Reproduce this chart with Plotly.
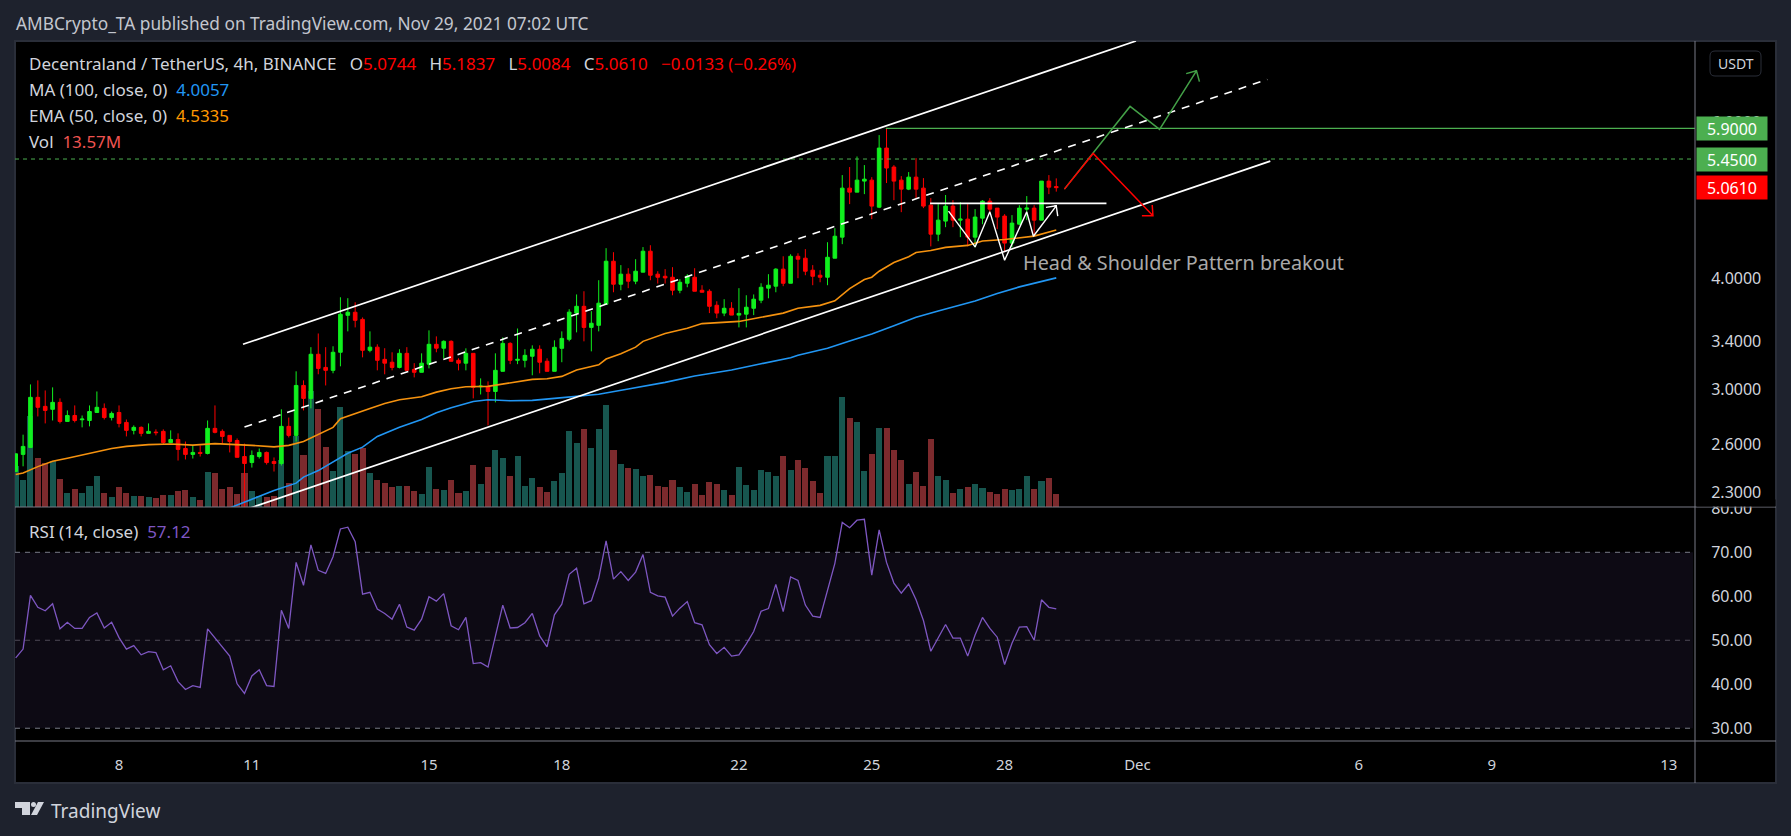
import numpy as np
import pandas as pd
import plotly.graph_objects as go

# 4h MANA/USDT candles
opens = [2.425,2.535,2.581,2.939,2.871,2.849,2.901,2.761,2.804,2.773,
         2.768,2.826,2.856,2.789,2.826,2.754,2.698,2.719,2.677,2.686,
         2.691,2.614,2.635,2.574,2.535,2.548,2.541,2.712,2.691,2.663,
         2.628,2.521,2.482,2.521,2.548,2.489,2.476,2.726,2.663,3.031,
         2.931,3.286,3.176,3.152,3.303,3.635,3.664,3.597,3.320,3.347,
         3.243,3.219,3.176,3.294,3.160,3.136,3.203,3.372,3.338,3.398,
         3.235,3.211,3.294,3.021,3.024,2.984,3.144,3.380,3.235,3.235,
         3.269,3.329,3.227,3.144,3.337,3.416,3.656,3.721,3.523,3.542,
         3.741,4.182,3.940,4.044,3.971,4.065,4.292,4.044,4.022,4.012,
         3.879,3.950,4.012,3.879,3.869,3.731,3.656,3.702,3.637,3.646,
         3.702,3.780,3.900,3.920,4.097,3.950,4.236,4.215,4.086,4.033,
         4.012,4.215,4.451,5.054,5.002,5.147,5.160,4.811,5.607,5.338,
         5.160,5.041,5.200,5.054,4.836,4.486,4.640,4.824,4.652,4.664,
         4.451,4.676,4.886,4.799,4.701,4.383,4.604,4.786,4.799,4.652,
         5.147,5.0744]
highs = [2.539,2.668,3.039,3.071,2.992,3.016,2.931,2.841,2.878,2.804,
         2.878,2.984,2.893,2.833,2.878,2.775,2.733,2.726,2.747,2.705,
         2.705,2.698,2.677,2.621,2.594,2.594,2.768,2.878,2.705,2.663,
         2.642,2.607,2.561,2.574,2.554,2.515,2.849,2.789,3.144,3.071,
         3.347,3.468,3.347,3.355,3.809,3.800,3.760,3.615,3.487,3.372,
         3.338,3.303,3.329,3.347,3.211,3.294,3.496,3.442,3.407,3.407,
         3.252,3.337,3.294,3.087,3.063,3.294,3.433,3.390,3.513,3.329,
         3.363,3.363,3.252,3.407,3.487,3.693,3.837,3.869,3.674,3.981,
         4.326,4.281,4.140,4.107,4.204,4.338,4.359,4.075,4.097,4.118,
         3.992,4.044,4.107,3.930,3.889,3.770,3.790,3.761,3.900,3.829,
         3.837,3.950,4.044,4.107,4.236,4.258,4.269,4.315,4.140,4.086,
         4.393,4.556,5.228,5.338,5.486,5.365,5.200,5.799,5.904,5.365,
         5.214,5.269,5.463,5.187,4.925,4.849,4.965,4.899,4.874,4.849,
         4.786,4.899,4.925,4.799,4.725,4.713,4.836,4.951,4.836,5.147,
         5.228,5.1837]
lows = [2.425,2.458,2.581,2.797,2.747,2.768,2.747,2.761,2.754,2.719,
        2.726,2.826,2.775,2.768,2.719,2.656,2.670,2.656,2.677,2.663,
        2.600,2.614,2.495,2.502,2.508,2.521,2.535,2.677,2.607,2.548,
        2.516,2.200,2.450,2.508,2.469,2.425,2.463,2.649,2.621,2.841,
        2.856,3.120,3.031,3.128,3.185,3.487,3.523,3.260,3.303,3.152,
        3.120,3.152,3.168,3.152,3.095,3.136,3.168,3.303,3.252,3.224,
        3.152,3.152,2.931,2.961,2.733,2.901,3.144,3.203,3.203,3.176,
        3.112,3.128,3.144,3.144,3.219,3.398,3.478,3.398,3.311,3.487,
        3.741,3.859,3.879,3.900,3.940,4.065,3.981,3.947,3.947,3.829,
        3.849,3.909,3.869,3.859,3.656,3.608,3.627,3.637,3.523,3.523,
        3.637,3.751,3.799,3.859,3.920,3.950,4.002,4.033,3.930,3.960,
        3.930,4.215,4.371,4.849,5.002,4.976,4.664,4.799,5.121,4.899,
        4.749,5.028,4.925,4.799,4.346,4.405,4.568,4.568,4.451,4.346,
        4.335,4.603,4.749,4.544,4.281,4.335,4.592,4.652,4.463,4.652,
        4.976,5.0084]
closes = [2.539,2.588,2.939,2.864,2.841,2.901,2.761,2.804,2.768,2.778,
          2.833,2.864,2.789,2.819,2.747,2.698,2.719,2.677,2.691,2.682,
          2.614,2.635,2.568,2.535,2.548,2.541,2.712,2.684,2.656,2.621,
          2.516,2.476,2.528,2.548,2.482,2.476,2.726,2.663,3.031,2.931,
          3.286,3.168,3.152,3.303,3.645,3.664,3.588,3.320,3.347,3.235,
          3.211,3.176,3.294,3.152,3.136,3.211,3.372,3.338,3.398,3.227,
          3.211,3.294,3.016,3.026,2.984,3.152,3.380,3.235,3.243,3.277,
          3.329,3.219,3.144,3.346,3.424,3.665,3.721,3.523,3.561,3.751,
          4.182,3.940,4.044,3.971,4.075,4.292,4.033,4.012,4.005,3.879,
          3.960,4.022,3.869,3.859,3.721,3.656,3.702,3.637,3.653,3.712,
          3.790,3.909,3.930,4.097,3.950,4.236,4.204,4.075,4.022,4.012,
          4.225,4.462,5.054,5.002,5.160,5.173,4.824,5.607,5.324,5.147,
          5.041,5.200,5.041,4.824,4.486,4.652,4.824,4.652,4.664,4.451,
          4.689,4.886,4.786,4.689,4.383,4.616,4.799,4.799,4.652,5.147,
          5.067,5.0610]
volumes = [42.5,28.5,94.7,51.5,45.9,48.3,29.5,14.9,19.1,14.9,
           22.2,32.7,14.9,10.8,21.2,14.9,11.8,11.8,10.8,9.7,
           12.8,12.8,17.0,18.1,10.8,7.6,36.9,35.8,19.1,21.2,
           13.9,35.8,17.0,11.8,10.8,11.8,49.4,25.4,74.4,54.6,
           121.4,102.6,63.0,37.9,104.7,58.8,55.6,61.9,35.8,28.5,
           25.4,21.2,22.2,22.2,17.0,13.9,42.1,18.8,17.7,28.2,
           14.6,16.7,43.8,24.0,41.8,59.5,51.2,32.4,53.2,21.9,
           30.3,20.9,15.7,27.1,35.5,79.3,66.8,81.4,61.6,81.4,
           106.5,59.5,44.9,40.7,39.7,32.4,33.4,21.9,20.9,28.2,
           20.9,15.7,24.0,12.5,26.1,24.0,17.7,12.5,41.8,23.0,
           17.7,38.6,36.5,32.4,53.2,38.6,49.1,40.7,27.1,14.6,
           53.2,53.2,114.8,92.9,88.7,37.6,55.3,82.5,82.5,59.5,
           49.1,24.0,36.5,21.9,71.0,32.4,28.2,14.6,18.8,20.9,
           24.0,19.8,15.7,13.6,18.8,17.7,18.8,32.4,18.8,27.1,
           30.3,13.57]
rsi_values = [46.0,48.0,60.2,57.5,56.7,58.3,52.6,54.1,52.7,52.7,
              55.2,56.2,52.8,54.1,50.6,48.0,48.8,46.7,47.4,47.2,
              43.3,44.2,40.6,38.8,39.7,39.3,52.6,50.6,48.6,46.4,
              40.1,37.9,41.9,43.3,39.7,39.5,56.8,52.7,67.7,62.5,
              71.7,65.9,65.2,69.0,75.3,75.7,72.4,60.5,60.9,57.1,
              56.1,54.8,58.2,53.0,52.3,54.8,59.9,58.9,60.6,53.3,
              52.4,55.2,44.7,44.9,43.9,51.2,58.0,52.8,52.9,54.0,
              56.1,51.0,48.5,55.8,58.2,65.0,66.4,58.3,59.0,64.1,
              72.6,63.9,65.6,63.6,65.5,69.5,60.9,60.1,59.8,55.5,
              57.3,58.8,54.0,53.5,49.0,47.0,48.4,46.4,46.7,49.2,
              52.0,56.6,57.2,62.7,56.5,64.4,63.6,58.0,55.5,55.2,
              61.4,67.5,76.8,75.6,77.3,77.5,64.8,75.1,67.7,63.0,
              60.7,62.8,59.2,54.5,47.5,50.7,53.6,50.5,50.5,46.4,
              51.2,55.2,52.7,50.7,44.5,49.3,53.0,53.1,50.0,59.2,
              57.5,57.12]

ema_bars = [0,1,3,5,7,9,11,13,15,18,21,24,27,29,32,35,37,39,41,43,44,46,48,50,52,55,57,59,
            61,64,66,68,70,72,74,76,79,80,82,84,85,88,91,93,96,98,101,104,106,109,111,113,
            115,116,117,119,121,122,124,126,129,131,134,138,141]
ema_values = [2.406,2.416,2.456,2.491,2.510,2.530,2.554,2.574,2.588,2.600,2.604,2.597,2.607,2.604,
              2.595,2.585,2.595,2.621,2.670,2.719,2.780,2.820,2.856,2.893,2.921,2.944,2.979,3.005,
              3.021,3.024,3.042,3.055,3.079,3.084,3.103,3.155,3.197,3.246,3.291,3.347,3.398,3.468,
              3.515,3.558,3.571,3.578,3.617,3.656,3.702,3.730,3.774,3.896,3.988,4.012,4.075,4.168,
              4.231,4.278,4.299,4.335,4.357,4.408,4.424,4.463,4.5335]
ma_bars = [28,32,35,38,39,41,43,45,47,49,52,55,57,59,62,64,67,70,73,76,79,83,88,92,97,101,105,
           106,110,113,116,119,122,125,127,130,133,136,141]
ma_values = [2.19,2.255,2.308,2.353,2.390,2.431,2.488,2.543,2.583,2.656,2.719,2.775,2.824,2.860,
             2.908,2.921,2.913,2.916,2.931,2.946,2.963,3.003,3.055,3.106,3.155,3.206,3.257,
             3.277,3.337,3.400,3.464,3.538,3.616,3.676,3.715,3.773,3.846,3.913,4.0057]

# drawing tools on the chart, as bar position and price
channel_top_bars, channel_top_prices = [30.8, 151.8], [3.372, 7.40]
channel_mid_bars, channel_mid_prices = [31.0, 169.6], [2.721, 6.699]
channel_low_bars, channel_low_prices = [31.0, 170.0], [2.195, 5.421]
neck_bars, neck_prices = [123.9, 147.8], [4.858, 4.858]
hs_bars = [126.4, 130, 132, 134, 137, 137.9, 141, 139.6, 141, 141.2]
hs_prices = [4.762, 4.340, 4.753, 4.193, 4.753, 4.462, 4.828, 4.808, 4.828, 4.701]
up_bars = [142.1, 151, 155, 160, 158.6, 160, 160.4]
up_prices = [5.041, 6.246, 5.885, 6.85, 6.80, 6.85, 6.66]
down_bars = [142.1, 146, 154.1, 152.6, 154.1, 154]
down_prices = [5.041, 5.530, 4.705, 4.705, 4.705, 4.838]

price_ticks = [2.3, 2.6, 3.0, 3.4, 4.0, 6.0]
rsi_ticks = [30, 40, 50, 60, 70, 80]
date_ticks = ["2021-11-08", "2021-11-11", "2021-11-15", "2021-11-18", "2021-11-22", "2021-11-25",
              "2021-11-28", "2021-12-01", "2021-12-06", "2021-12-09", "2021-12-13"]
date_labels = ["8", "11", "15", "18", "22", "25", "28", "Dec", "6", "9", "13"]

W, H = 1791, 836
BG = "#1e222d"
BORDER = "#2a2e39"
DIVIDER = "#787b86"
TEXT = "#d1d4dc"
UP = "#10f01e"
DOWN = "#ff0000"
GREEN_LINE = "#4caf50"
FONT = "Noto Sans"


def px(x):
    return x / W


def py(y):
    return 1 - y / H


start = pd.Timestamp("2021-11-05 16:00")


def bar_time(b):
    return start + pd.to_timedelta(np.asarray(b, dtype=float) * 4, unit="h")


times = bar_time(np.arange(len(closes)))
x_range = [bar_time(-0.095), bar_time(227.55)]
vol_colors = ["#17564f" if c >= o else "#7c2a2d" for o, c in zip(opens, closes)]

fig = go.Figure()

fig.add_trace(go.Bar(x=times, y=volumes, marker=dict(color=vol_colors, line_width=0),
                     width=4 * 3600 * 1000 * 0.82, xaxis="x", yaxis="y"))
fig.add_trace(go.Scatter(x=bar_time([117.9, 227.55]), y=[5.9, 5.9], mode="lines",
                         line=dict(color=GREEN_LINE, width=1.3), xaxis="x", yaxis="y2"))
fig.add_trace(go.Scatter(x=x_range, y=[5.45, 5.45], mode="lines",
                         line=dict(color=GREEN_LINE, width=1, dash="4px,4px"), xaxis="x", yaxis="y2"))
fig.add_trace(go.Candlestick(x=times, open=opens, high=highs, low=lows, close=closes,
                             increasing=dict(line=dict(color=UP, width=1), fillcolor=UP),
                             decreasing=dict(line=dict(color=DOWN, width=1), fillcolor=DOWN),
                             xaxis="x", yaxis="y2"))
fig.add_trace(go.Scatter(x=bar_time(ma_bars), y=ma_values, mode="lines",
                         line=dict(color="#2196f3", width=1.6), xaxis="x", yaxis="y2"))
fig.add_trace(go.Scatter(x=bar_time(ema_bars), y=ema_values, mode="lines",
                         line=dict(color="#f5920f", width=1.6), xaxis="x", yaxis="y2"))

for bars, prices, dash, width in [
    (channel_top_bars, channel_top_prices, None, 1.7),
    (channel_mid_bars, channel_mid_prices, "8px,7px", 1.6),
    (channel_low_bars, channel_low_prices, None, 1.7),
    (neck_bars, neck_prices, None, 1.7),
    (hs_bars, hs_prices, None, 1.4),
]:
    fig.add_trace(go.Scatter(x=bar_time(bars), y=prices, mode="lines",
                             line=dict(color="#ffffff", width=width, dash=dash), xaxis="x", yaxis="y2"))
fig.add_trace(go.Scatter(x=bar_time(up_bars), y=up_prices, mode="lines",
                         line=dict(color="#43a047", width=1.5), xaxis="x", yaxis="y2"))
fig.add_trace(go.Scatter(x=bar_time(down_bars), y=down_prices, mode="lines",
                         line=dict(color=DOWN, width=1.5), xaxis="x", yaxis="y2"))

fig.add_trace(go.Scatter(x=times, y=rsi_values, mode="lines",
                         line=dict(color="#7e57c2", width=1.3), xaxis="x2", yaxis="y3"))

shapes = [
    # chart frame
    dict(type="rect", xref="paper", yref="paper", x0=px(15), x1=px(1776), y0=py(783), y1=py(41),
         fillcolor="#000000", line=dict(color=BORDER, width=2), layer="below"),
    # RSI band and levels
    dict(type="rect", xref="paper", yref="y3", x0=px(15), x1=px(1693), y0=30, y1=70,
         fillcolor="#0d0a14", line_width=0, layer="below"),
]
for level, color in [(70, DIVIDER), (50, "#4d4a57"), (30, DIVIDER)]:
    shapes.append(dict(type="line", xref="paper", yref="y3", x0=px(15), x1=px(1693), y0=level, y1=level,
                       line=dict(color=color, width=1, dash="5px,5px"), layer="below"))
# pane dividers and price scale edge
for y in (507, 741):
    shapes.append(dict(type="line", xref="paper", yref="paper", x0=px(15), x1=px(1776), y0=py(y), y1=py(y),
                       line=dict(color=DIVIDER, width=1)))
shapes.append(dict(type="line", xref="paper", yref="paper", x0=px(1695), x1=px(1695), y0=py(783), y1=py(41),
                   line=dict(color=DIVIDER, width=1)))
# USDT button
x0, x1, y0, y1 = 1710, 1761, 51, 76
r = 5
shapes.append(dict(type="path", xref="paper", yref="paper",
                   path=f"M{px(x0 + r)},{py(y0)} L{px(x1 - r)},{py(y0)} Q{px(x1)},{py(y0)} {px(x1)},{py(y0 + r)} "
                        f"L{px(x1)},{py(y1 - r)} Q{px(x1)},{py(y1)} {px(x1 - r)},{py(y1)} "
                        f"L{px(x0 + r)},{py(y1)} Q{px(x0)},{py(y1)} {px(x0)},{py(y1 - r)} "
                        f"L{px(x0)},{py(y0 + r)} Q{px(x0)},{py(y0)} {px(x0 + r)},{py(y0)} Z",
                   line=dict(color=BORDER, width=1)))
# TradingView logo
shapes.append(dict(type="path", xref="paper", yref="paper",
                   path=f"M{px(15)},{py(802)} L{px(30)},{py(802)} L{px(30)},{py(815)} L{px(22)},{py(815)} "
                        f"L{px(22)},{py(808)} L{px(15)},{py(808)} Z",
                   fillcolor=TEXT, line_width=0))
shapes.append(dict(type="circle", xref="paper", yref="paper", x0=px(31), x1=px(36), y0=py(807), y1=py(802),
                   fillcolor=TEXT, line_width=0))
shapes.append(dict(type="path", xref="paper", yref="paper",
                   path=f"M{px(38)},{py(802)} L{px(44)},{py(802)} L{px(37)},{py(815)} L{px(31)},{py(815)} Z",
                   fillcolor=TEXT, line_width=0))


def label(text, x, y, size, color=TEXT, **kw):
    return dict(text=text, xref="paper", yref="paper", x=px(x), y=py(y), xanchor="left", yanchor="middle",
                showarrow=False, borderpad=0, font=dict(family=FONT, size=size, color=color), **kw)


def span(text, color):
    return f'<span style="color:{color}">{text}</span>'


nb = "\u00a0"
gap = nb * 3
annotations = [
    label("AMBCrypto_TA published on TradingView.com, Nov 29, 2021 07:02 UTC", 15, 23, 17.3, "#c3c6ce"),
    label(f"Decentraland / TetherUS, 4h, BINANCE{gap}O{span('5.0744', DOWN)}{gap}H{span('5.1837', DOWN)}"
          f"{gap}L{span('5.0084', DOWN)}{gap}C{span('5.0610', DOWN)}{gap}"
          f"{span('−0.0133 (−0.26%)', DOWN)}", 27.5, 63, 17),
    label(f"MA (100, close, 0){nb}{nb}{span('4.0057', '#2196f3')}", 27.5, 90, 17),
    label(f"EMA (50, close, 0){nb}{nb}{span('4.5335', '#ff9800')}", 27.5, 116, 17),
    label(f"Vol{nb}{nb}{span('13.57M', '#ef5350')}", 27.5, 142, 17),
    label(f"RSI (14, close){nb}{nb}{span('57.12', '#7e57c2')}", 27.5, 531, 17),
    label("Head &amp; Shoulder Pattern breakout", 1022, 262, 19.8, "#a9a9a9"),
    label("USDT", 1717, 63.5, 14),
    label("TradingView", 50, 811, 19),
    # covers the top half of the 80.00 tick, which is cut by the pane edge
    label(" ", 1696, 503, 6, bgcolor="#000000", width=78, height=6),
]
for value, text, color in [(5.9, "5.9000", GREEN_LINE), (5.45, "5.4500", GREEN_LINE), (5.061, "5.0610", DOWN)]:
    annotations.append(dict(text=text, xref="paper", yref="y2", x=px(1696), y=np.log10(value),
                            xanchor="left", yanchor="middle", showarrow=False, width=70, height=23, align="center",
                            bgcolor=color, borderpad=0, font=dict(family=FONT, size=16, color="#ffffff")))

tick_font = dict(family=FONT, size=15, color=TEXT)
scale_font = dict(family=FONT, size=16, color=TEXT)
fig.update_layout(
    width=W,
    height=H,
    margin=dict(l=0, r=0, t=0, b=0, autoexpand=False),
    paper_bgcolor=BG,
    plot_bgcolor="rgba(0,0,0,0)",
    showlegend=False,
    bargap=0,
    shapes=shapes,
    annotations=annotations,
    xaxis=dict(domain=[px(15), px(1695)], range=x_range, anchor="y", showgrid=False, zeroline=False,
               showticklabels=False, ticks="", rangeslider=dict(visible=False)),
    yaxis=dict(domain=[py(507), py(41)], range=[0, 486.5], visible=False, fixedrange=True),
    yaxis2=dict(overlaying="y", side="right", anchor="x", type="log",
                range=[np.log10(2.212), np.log10(7.40)], showgrid=False, zeroline=False,
                tickvals=price_ticks, ticktext=[f"{v:.4f}" for v in price_ticks], tickfont=scale_font,
                ticks="outside", ticklen=12, tickcolor="rgba(0,0,0,0)"),
    xaxis2=dict(domain=[px(15), px(1695)], range=x_range, anchor="y3", showgrid=False, zeroline=False,
                tickvals=date_ticks, ticktext=date_labels, tickfont=tick_font,
                ticks="outside", ticklen=10, tickcolor="rgba(0,0,0,0)"),
    yaxis3=dict(domain=[py(741), py(507)], range=[27.1, 80.3], side="right", anchor="x2", showgrid=False,
                zeroline=False, tickvals=rsi_ticks, ticktext=[f"{v:.2f}" for v in rsi_ticks], tickfont=scale_font,
                ticks="outside", ticklen=12, tickcolor="rgba(0,0,0,0)"),
)

fig.write_html("out.html", config={"displayModeBar": False},
               post_script="document.body.style.margin='0';document.body.style.background='#1e222d';"
                           "document.documentElement.style.overflow='hidden';")
